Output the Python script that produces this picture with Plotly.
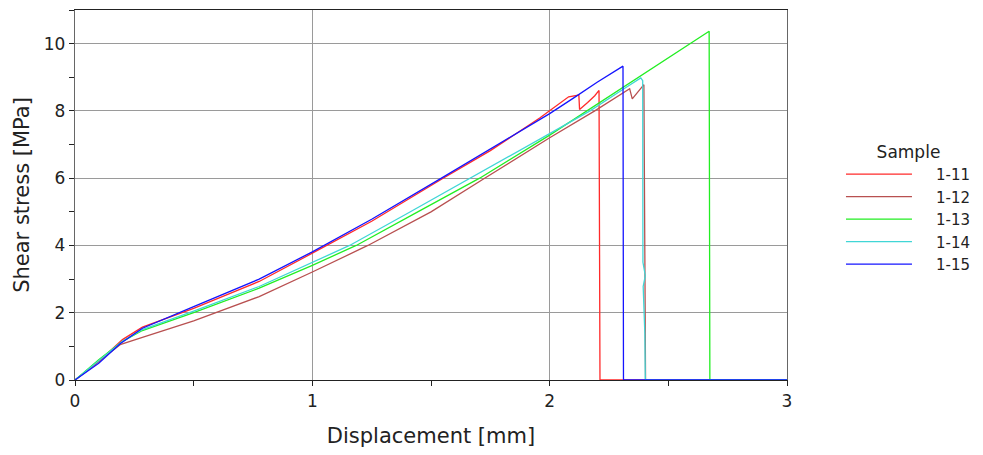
import plotly.graph_objects as go

samples = ["1-11", "1-12", "1-13", "1-14", "1-15"]
colors = ["#ff2a2a", "#b85050", "#22ee22", "#40d6d6", "#1414ff"]

x_1_11 = [0, 0.1, 0.2, 0.284, 0.5, 0.776, 1.0, 1.25, 1.544, 1.75, 1.958, 2.08, 2.123, 2.126, 2.16, 2.19, 2.208, 2.212, 3.0]
y_1_11 = [0, 0.55, 1.2, 1.57, 2.13, 2.93, 3.77, 4.72, 5.97, 6.82, 7.79, 8.42, 8.47, 8.04, 8.25, 8.45, 8.61, 0, 0]

x_1_12 = [0, 0.1, 0.19, 0.284, 0.5, 0.776, 1.0, 1.234, 1.5, 1.726, 2.0, 2.19, 2.337, 2.348, 2.397, 2.404, 3.0]
y_1_12 = [0, 0.55, 1.05, 1.27, 1.76, 2.48, 3.21, 4.0, 5.0, 6.0, 7.2, 8.0, 8.66, 8.36, 8.78, 0, 0]

x_1_13 = [0, 0.1, 0.2, 0.284, 0.5, 0.776, 1.0, 1.185, 1.45, 1.705, 2.0, 2.156, 2.384, 2.5, 2.672, 2.675, 3.0]
y_1_13 = [0, 0.6, 1.15, 1.47, 2.0, 2.73, 3.41, 4.0, 5.02, 6.0, 7.28, 8.0, 9.05, 9.58, 10.37, 0, 0]

x_1_14 = [0, 0.1, 0.2, 0.284, 0.5, 0.776, 1.0, 1.157, 1.4, 1.663, 2.0, 2.17, 2.3, 2.384, 2.392, 2.393, 2.403, 2.394, 2.401, 2.403, 3.0]
y_1_14 = [0, 0.58, 1.15, 1.5, 2.05, 2.78, 3.49, 4.0, 4.95, 6.0, 7.33, 8.0, 8.6, 8.98, 8.9, 3.5, 3.1, 2.78, 1.4, 0, 0]

x_1_15 = [0, 0.1, 0.19, 0.284, 0.5, 0.776, 1.0, 1.25, 1.544, 1.75, 1.888, 1.958, 2.0, 2.1, 2.2, 2.309, 2.311, 3.0]
y_1_15 = [0, 0.5, 1.08, 1.54, 2.18, 3.0, 3.81, 4.78, 6.0, 6.87, 7.44, 7.74, 7.92, 8.38, 8.85, 9.33, 0, 0]

xs = [x_1_11, x_1_12, x_1_13, x_1_14, x_1_15]
ys = [y_1_11, y_1_12, y_1_13, y_1_14, y_1_15]

x_ticks = [0, 1, 2, 3]
y_ticks = [0, 2, 4, 6, 8, 10]

FONT = "DejaVu Sans, Verdana, sans-serif"
PAD = "\u00a0" * 4

fig = go.Figure()
for name, c, x, y in zip(samples, colors, xs, ys):
    fig.add_trace(go.Scatter(x=x, y=y, mode="lines", name=PAD + name,
                             line=dict(color=c, width=1.3)))

fig.update_layout(
    width=983, height=455,
    margin=dict(l=75, r=196, t=10, b=75, autoexpand=False),
    paper_bgcolor="white", plot_bgcolor="white",
    font=dict(family=FONT, size=17, color="#222"),
    showlegend=True,
    legend=dict(
        x=1.0758, y=0.66, xanchor="left", yanchor="top",
        title=dict(text="Sample", side="top center", font=dict(size=17)),
        font=dict(size=15), itemwidth=66, tracegroupgap=0,
        bgcolor="rgba(0,0,0,0)",
    ),
    xaxis=dict(
        range=[0, 3], tickvals=x_ticks, ticktext=[str(v) for v in x_ticks],
        showgrid=True, gridcolor="#9a9a9a", gridwidth=1.3,
        showline=True, linecolor="#222", linewidth=1.3, mirror=True,
        ticks="outside", ticklen=5, tickcolor="#222",
        minor=dict(dtick=0.5, ticks="outside", ticklen=5, tickcolor="#222", showgrid=False),
        zeroline=False,
        title=dict(text="Displacement [mm]", font=dict(size=21), standoff=18),
        tickfont=dict(size=17),
    ),
    yaxis=dict(
        range=[0, 11], tickvals=y_ticks, ticktext=[str(v) for v in y_ticks],
        showgrid=True, gridcolor="#9a9a9a", gridwidth=1.3,
        showline=True, linecolor="#666", linewidth=1.3, mirror=True,
        ticks="outside", ticklen=5, tickcolor="#222",
        minor=dict(dtick=1, ticks="outside", ticklen=5, tickcolor="#222", showgrid=False),
        zeroline=False,
        title=dict(text="Shear stress [MPa]", font=dict(size=21), standoff=8),
        tickfont=dict(size=17),
    ),
)

fig.write_html("out.html")
